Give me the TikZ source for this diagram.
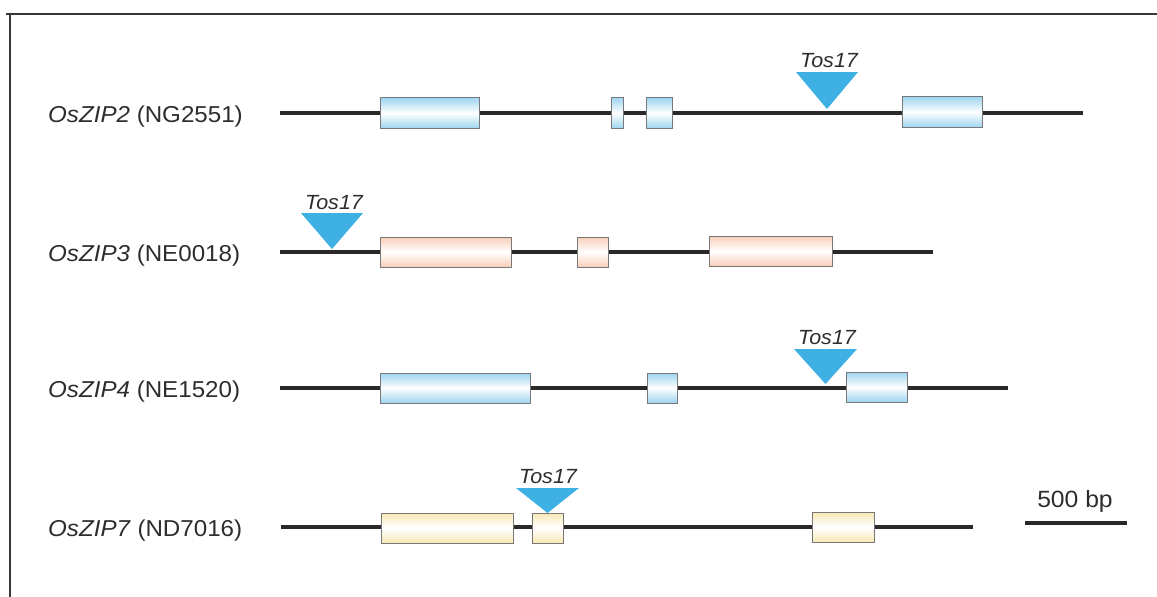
\documentclass[tikz,border=0pt]{standalone}
\usepackage{fontspec}
\setmainfont{Liberation Sans}[FakeStretch=1.05]
\definecolor{genec}{RGB}{42,40,40}
\definecolor{framec}{RGB}{55,55,55}
\definecolor{tosc}{RGB}{62,176,228}
\definecolor{exblue}{RGB}{156,212,240}
\definecolor{expink}{RGB}{248,206,184}
\definecolor{exyel}{RGB}{247,232,182}
\definecolor{exedge}{RGB}{120,120,120}
\definecolor{txt}{RGB}{45,45,45}
\tikzset{
  gene/.style={draw=genec, line width=4.8},
  exon/.style={draw=exedge, line width=0.9, inner sep=0pt, minimum height=30},
  bluex/.style={exon, top color=exblue, bottom color=exblue, middle color=white},
  pinkx/.style={exon, top color=expink, bottom color=expink, middle color=white},
  yelx/.style={exon, top color=exyel, bottom color=exyel, middle color=white},
  tos/.style={fill=tosc},
  toslab/.style={anchor=base, inner sep=0pt, text=txt, font=\fontsize{20.5}{23}\selectfont\itshape},
  genelab/.style={anchor=base west, inner sep=0pt, text=txt, font=\fontsize{23}{26}\selectfont},
}
\begin{document}
\begin{tikzpicture}[x=1pt,y=-1pt]
\useasboundingbox (0,0) rectangle (1157,597);
% frame
\coordinate (ftl) at (10,14);
\coordinate (ftr) at (1157,14);
\coordinate (fbl) at (10,597);
\draw[framec, line width=1.8] (ftr) -- (6,14);
\draw[framec, line width=1.8] (ftl) -- (fbl);

% ---------- Row 1: OsZIP2 ----------
\node[genelab] (l1) at (48,122) {\textit{OsZIP2} (NG2551)};
\coordinate (g1s) at (280,113);
\coordinate (g1e) at (1083,113);
\draw[gene] (g1s) -- (g1e);
\node[bluex, minimum width=99, minimum height=31] (e1a) at (429.5,113) {};
\node[bluex, minimum width=12, minimum height=31] (e1b) at (617,113) {};
\node[bluex, minimum width=26, minimum height=31] (e1c) at (659,113) {};
\node[bluex, minimum width=80, minimum height=31] (e1d) at (942,112) {};
\coordinate (t1l) at (796,72);
\coordinate (t1r) at (858,72);
\coordinate (t1a) at (827,109);
\fill[tos] (t1l) -- (t1r) -- (t1a) -- cycle;
\node[toslab] (tl1) at (829,67) {Tos17};

% ---------- Row 2: OsZIP3 ----------
\node[genelab] (l2) at (48,261) {\textit{OsZIP3} (NE0018)};
\coordinate (g2s) at (280,252);
\coordinate (g2e) at (933,252);
\draw[gene] (g2s) -- (g2e);
\node[pinkx, minimum width=131] (e2a) at (445.5,252) {};
\node[pinkx, minimum width=31] (e2b) at (592.5,252) {};
\node[pinkx, minimum width=123] (e2c) at (770.5,251) {};
\coordinate (t2l) at (301,213);
\coordinate (t2r) at (363,213);
\coordinate (t2a) at (332,249);
\fill[tos] (t2l) -- (t2r) -- (t2a) -- cycle;
\node[toslab] (tl2) at (334,209) {Tos17};

% ---------- Row 3: OsZIP4 ----------
\node[genelab] (l3) at (48,397) {\textit{OsZIP4} (NE1520)};
\coordinate (g3s) at (280,388);
\coordinate (g3e) at (1008,388);
\draw[gene] (g3s) -- (g3e);
\node[bluex, minimum width=150] (e3a) at (455,388) {};
\node[bluex, minimum width=30] (e3b) at (662,388) {};
\node[bluex, minimum width=61] (e3c) at (876.5,387) {};
\coordinate (t3l) at (794,349);
\coordinate (t3r) at (857,349);
\coordinate (t3a) at (825.5,384);
\fill[tos] (t3l) -- (t3r) -- (t3a) -- cycle;
\node[toslab] (tl3) at (827,344) {Tos17};

% ---------- Row 4: OsZIP7 ----------
\node[genelab] (l4) at (48,536) {\textit{OsZIP7} (ND7016)};
\coordinate (g4s) at (281,527);
\coordinate (g4e) at (973,527);
\draw[gene] (g4s) -- (g4e);
\node[yelx, minimum width=132] (e4a) at (447,528) {};
\node[yelx, minimum width=31] (e4b) at (547.5,528) {};
\node[yelx, minimum width=62] (e4c) at (843,527) {};
\coordinate (t4l) at (516,488);
\coordinate (t4r) at (579,488);
\coordinate (t4a) at (547.5,513);
\fill[tos] (t4l) -- (t4r) -- (t4a) -- cycle;
\node[toslab] (tl4) at (548,483) {Tos17};

% ---------- scale bar ----------
\coordinate (sb1) at (1025,523);
\coordinate (sb2) at (1127,523);
\draw[gene] (sb1) -- (sb2);
\node[anchor=base, inner sep=0pt, text=txt, font=\fontsize{23.5}{26}\selectfont] (sbl) at (1075,507) {500 bp};
\end{tikzpicture}
\end{document}
